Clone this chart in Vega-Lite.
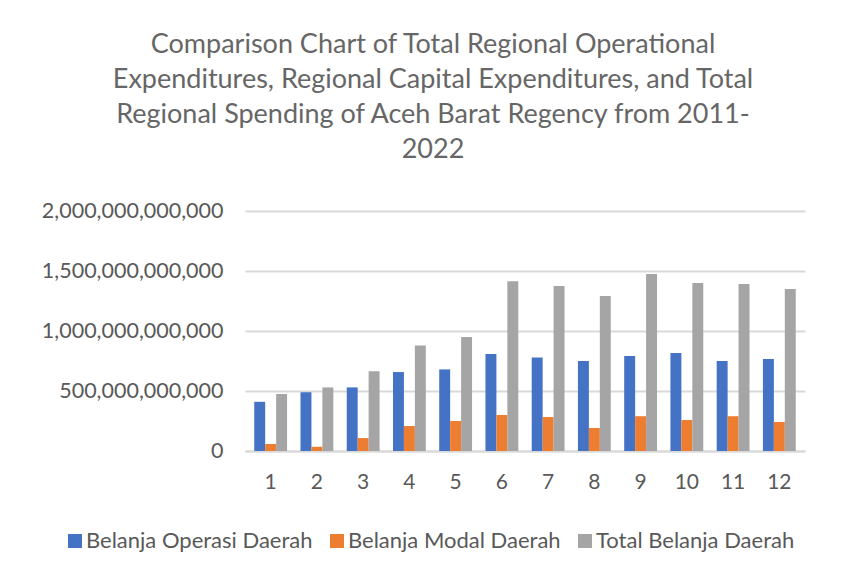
{
  "$schema": "https://vega.github.io/schema/vega-lite/v6.json",
  "width": 560,
  "height": 240,
  "autosize": {"type": "none"},
  "padding": {"left": 245, "top": 211, "right": 47, "bottom": 127},
  "background": "white",
  "title": {
    "text": ["Comparison Chart of Total Regional Operational", "Expenditures, Regional Capital Expenditures, and Total", "Regional Spending of Aceh Barat Regency from 2011-", "2022"],
    "font": "Lato",
    "fontSize": 27,
    "fontWeight": "normal",
    "color": "#666666",
    "lineHeight": 35,
    "anchor": "middle",
    "dx": -92,
    "offset": 36
  },
  "data": {
    "values": [
      {"year": 1, "series": "Belanja Operasi Daerah", "value": 410000000000},
      {"year": 1, "series": "Belanja Modal Daerah", "value": 58000000000},
      {"year": 1, "series": "Total Belanja Daerah", "value": 475000000000},
      {"year": 2, "series": "Belanja Operasi Daerah", "value": 490000000000},
      {"year": 2, "series": "Belanja Modal Daerah", "value": 35000000000},
      {"year": 2, "series": "Total Belanja Daerah", "value": 530000000000},
      {"year": 3, "series": "Belanja Operasi Daerah", "value": 530000000000},
      {"year": 3, "series": "Belanja Modal Daerah", "value": 108000000000},
      {"year": 3, "series": "Total Belanja Daerah", "value": 665000000000},
      {"year": 4, "series": "Belanja Operasi Daerah", "value": 658000000000},
      {"year": 4, "series": "Belanja Modal Daerah", "value": 208000000000},
      {"year": 4, "series": "Total Belanja Daerah", "value": 880000000000},
      {"year": 5, "series": "Belanja Operasi Daerah", "value": 680000000000},
      {"year": 5, "series": "Belanja Modal Daerah", "value": 250000000000},
      {"year": 5, "series": "Total Belanja Daerah", "value": 950000000000},
      {"year": 6, "series": "Belanja Operasi Daerah", "value": 808000000000},
      {"year": 6, "series": "Belanja Modal Daerah", "value": 300000000000},
      {"year": 6, "series": "Total Belanja Daerah", "value": 1415000000000},
      {"year": 7, "series": "Belanja Operasi Daerah", "value": 780000000000},
      {"year": 7, "series": "Belanja Modal Daerah", "value": 283000000000},
      {"year": 7, "series": "Total Belanja Daerah", "value": 1375000000000},
      {"year": 8, "series": "Belanja Operasi Daerah", "value": 750000000000},
      {"year": 8, "series": "Belanja Modal Daerah", "value": 192000000000},
      {"year": 8, "series": "Total Belanja Daerah", "value": 1292000000000},
      {"year": 9, "series": "Belanja Operasi Daerah", "value": 792000000000},
      {"year": 9, "series": "Belanja Modal Daerah", "value": 290000000000},
      {"year": 9, "series": "Total Belanja Daerah", "value": 1475000000000},
      {"year": 10, "series": "Belanja Operasi Daerah", "value": 817000000000},
      {"year": 10, "series": "Belanja Modal Daerah", "value": 258000000000},
      {"year": 10, "series": "Total Belanja Daerah", "value": 1400000000000},
      {"year": 11, "series": "Belanja Operasi Daerah", "value": 750000000000},
      {"year": 11, "series": "Belanja Modal Daerah", "value": 290000000000},
      {"year": 11, "series": "Total Belanja Daerah", "value": 1392000000000},
      {"year": 12, "series": "Belanja Operasi Daerah", "value": 767000000000},
      {"year": 12, "series": "Belanja Modal Daerah", "value": 242000000000},
      {"year": 12, "series": "Total Belanja Daerah", "value": 1350000000000}
    ]
  },
  "mark": {"type": "bar"},
  "encoding": {
    "x": {
      "field": "year",
      "type": "ordinal",
      "title": null,
      "scale": {"paddingInner": 0.29, "paddingOuter": 0.2},
      "axis": {
        "labelAngle": 0,
        "labelFont": "Lato",
        "labelFontSize": 21,
        "labelColor": "#595959",
        "labelPadding": 20,
        "ticks": false,
        "domain": true,
        "domainColor": "#d9d9d9",
        "domainWidth": 2
      }
    },
    "xOffset": {
      "field": "series",
      "type": "nominal",
      "sort": ["Belanja Operasi Daerah", "Belanja Modal Daerah", "Total Belanja Daerah"]
    },
    "y": {
      "field": "value",
      "type": "quantitative",
      "title": null,
      "scale": {"domain": [0, 2000000000000]},
      "axis": {
        "values": [0, 500000000000, 1000000000000, 1500000000000, 2000000000000],
        "format": ",d",
        "labelFont": "Lato",
        "labelFontSize": 21.5,
        "labelColor": "#595959",
        "labelPadding": 22,
        "labelLimit": 400,
        "ticks": false,
        "domain": false,
        "grid": true,
        "gridColor": "#d9d9d9",
        "gridWidth": 2
      }
    },
    "color": {
      "field": "series",
      "type": "nominal",
      "sort": ["Belanja Operasi Daerah", "Belanja Modal Daerah", "Total Belanja Daerah"],
      "scale": {
        "domain": ["Belanja Operasi Daerah", "Belanja Modal Daerah", "Total Belanja Daerah"],
        "range": ["#4472C4", "#ED7D31", "#A5A5A5"]
      },
      "legend": {
        "title": null,
        "orient": "none",
        "direction": "horizontal",
        "legendX": -181,
        "legendY": 319,
        "symbolType": "square",
        "symbolSize": 196,
        "symbolStrokeWidth": 0,
        "labelFont": "Lato",
        "labelFontSize": 22,
        "labelColor": "#595959",
        "labelLimit": 400,
        "columnPadding": 13,
        "labelOffset": 0
      }
    }
  },
  "config": {
    "view": {"stroke": null}
  }
}
